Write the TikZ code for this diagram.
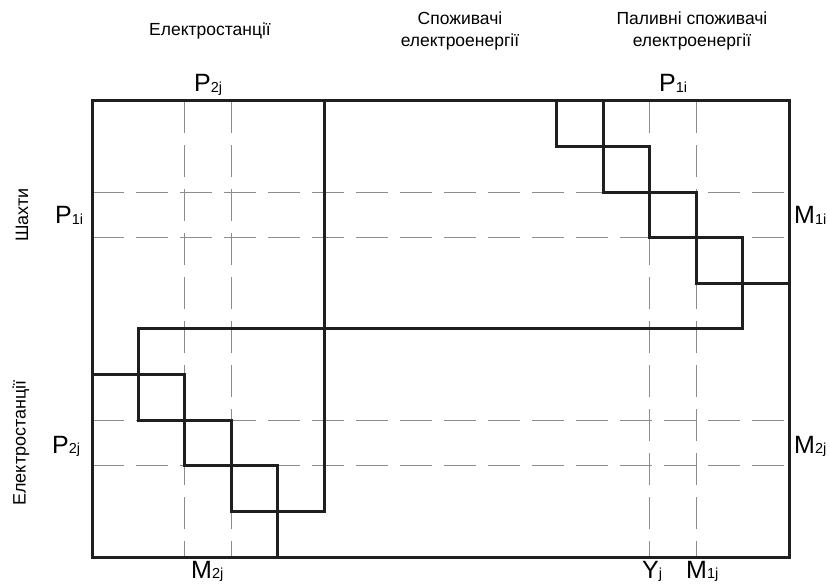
\documentclass[tikz,border=0pt]{standalone}
\usepackage{fontspec}
\setmainfont{Liberation Sans}
\newcommand{\lbsub}[2]{#1{\fontsize{14.5}{14.5}\selectfont\raisebox{-0.5pt}{#2}}}
\begin{document}
\begin{tikzpicture}[x=1pt,y=-1pt,
  thickln/.style={line width=3pt, draw=black!88, line join=miter},
  dashln/.style={line width=1.1pt, draw=black!45, dash pattern=on 32pt off 12pt},
  hdr/.style={font=\fontsize{17.5}{21.5}\selectfont, align=center, inner sep=0pt},
  lbl/.style={font=\fontsize{25}{25}\selectfont, inner sep=0pt, anchor=base west},
  side/.style={font=\fontsize{18}{18}\selectfont, inner sep=0pt, rotate=90}]
\useasboundingbox (0,0) rectangle (830,585);
\begin{scope}[shift={(92pt,-101pt)}, x=46.47pt, y=-45.6pt]
  \foreach \r in {2,3,7,8} \draw[dashln] (0,\r) -- (15,\r);
  \foreach \c in {2,3,12,13} \draw[dashln] (\c,0) -- (\c,10);
  \draw[thickln] (0,0) rectangle (15,10);
  \draw[thickln] (10,0) |- (12,1) |- (14,3) |- (1,5) |- (3,7) |- (5,9) -- (5,0);
  \draw[thickln] (11,0) |- (13,2) |- (15,4);
  \draw[thickln] (0,6) -| (2,8) -| (4,10);
\end{scope}
% headers
\node[hdr] (h1) at (210,31) {Електростанції};
\node[hdr] (h2) at (460,31) {Споживачі\\електроенергії};
\node[hdr] (h3) at (692,31) {Паливні споживачі\\електроенергії};
% side labels
\node[side] (s1) at (22,215) {Шахти};
\node[side] (s2) at (21,443) {Електростанції};
% symbol labels
\node[lbl] (t1) at (194,92) {\lbsub{P}{2j}};
\node[lbl] (t2) at (659,92) {\lbsub{P}{1i}};
\node[lbl] (l1) at (55,224) {\lbsub{P}{1i}};
\node[lbl] (l2) at (52,453) {\lbsub{P}{2j}};
\node[lbl] (r1) at (794,224) {\lbsub{M}{1i}};
\node[lbl] (r2) at (794,453) {\lbsub{M}{2j}};
\node[lbl] (b1) at (191,578) {\lbsub{M}{2j}};
\node[lbl] (b2) at (642,578) {\lbsub{Y}{j}};
\node[lbl] (b3) at (686,578) {\lbsub{M}{1j}};
\end{tikzpicture}
\end{document}
